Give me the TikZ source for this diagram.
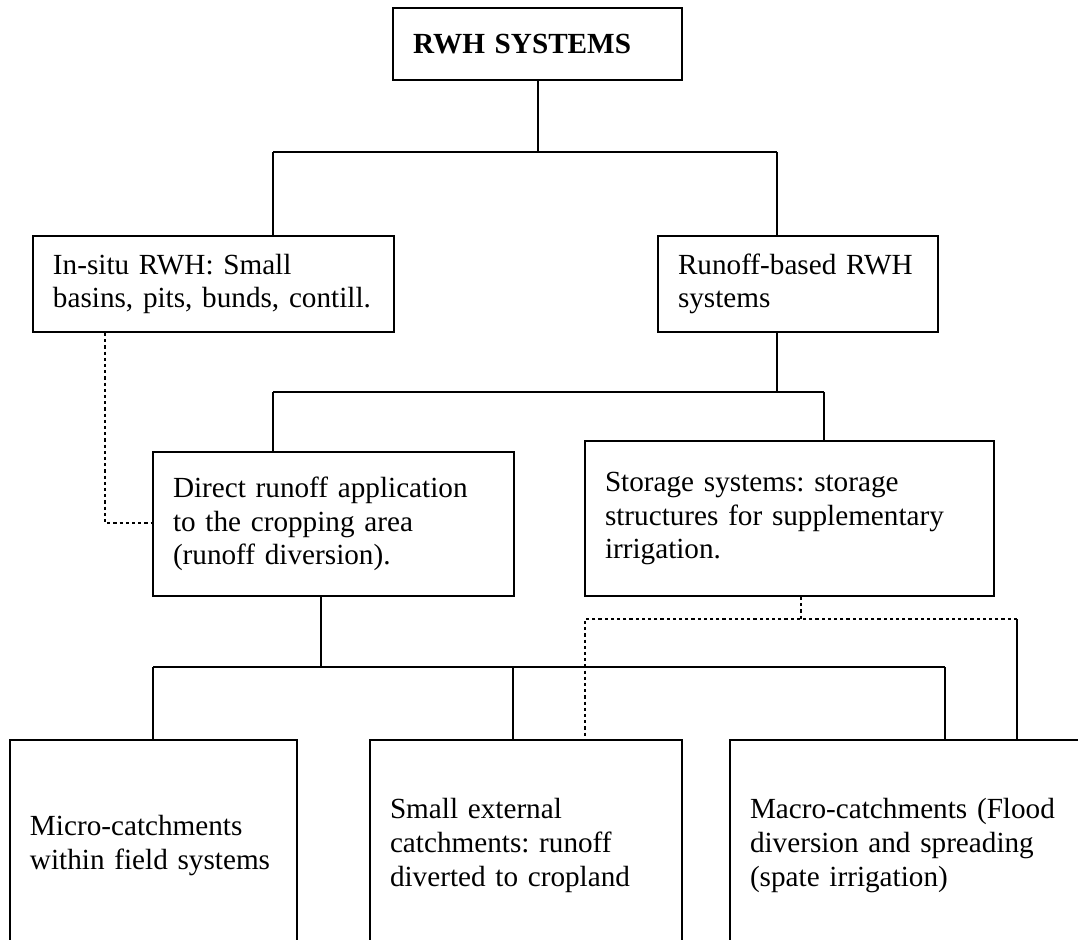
\documentclass[tikz,border=0pt]{standalone}
\usepackage{fontspec}
\setmainfont{Liberation Serif}
\usepackage{tikz}
\frenchspacing
\tikzset{
    sysbox/.style={draw, rectangle, line width=1pt, anchor=north west,
    	inner xsep=10pt, inner ysep=0pt, align=left,
    	font=\fontsize{14.6pt}{16.8pt}\selectfont}
}
\tikzset{
    every edge/.append style={line width=1pt}
}
\tikzset{
	dotlink/.style={line width=1pt, dash pattern=on 1.6pt off 1.5pt}
}

\begin{document}
\begin{tikzpicture}[x=0.5pt, y=-0.5pt]
	\useasboundingbox (0,0) rectangle (1078,940);
	\clip (0,0) rectangle (1078,940);
	% boxes
	\node [sysbox, text width=124.5pt, minimum height=36pt] (rwh) at (392,7)
		{\textbf{RWH SYSTEMS}};
	\node [sysbox, text width=160.5pt, minimum height=48pt] (insitu) at (32,235)
		{In-situ RWH: Small\\basins, pits, bunds, contill.};
	\node [sysbox, text width=120pt, minimum height=48pt] (runoff) at (657,235)
		{Runoff-based RWH\\systems};
	\node [sysbox, text width=160.5pt, minimum height=72pt] (direct) at (152,451)
		{Direct runoff application\\to the cropping area\\(runoff diversion).};
	\node [sysbox, text width=184.5pt, minimum height=77.5pt] (storage) at (584,440)
		{Storage systems: storage\\structures for supplementary\\irrigation.};
	\node [sysbox, text width=123.5pt, minimum height=105.5pt] (micro) at (9,739)
		{Micro-catchments\\within field systems};
	\node [sysbox, text width=136pt, minimum height=105.5pt] (small) at (369,739)
		{Small external\\catchments: runoff\\diverted to cropland};
	\node [sysbox, text width=180pt, minimum height=105.5pt] (macro) at (729,739)
		{Macro-catchments (Flood\\diversion and spreading\\(spate irrigation)};
	% junctions
	\coordinate (b1l) at (273,152); \coordinate (b1r) at (777,152);
	\coordinate (b2l) at (273,392); \coordinate (b2m) at (777,392);
	\coordinate (b2r) at (824,392);
	\coordinate (b3l) at (153,667); \coordinate (b3m) at (321,667);
	\coordinate (b3c) at (513,667); \coordinate (b3r) at (945,667);
	\coordinate (d1) at (105,523);
	\coordinate (s1l) at (585,619); \coordinate (s1m) at (801,619);
	\coordinate (s1r) at (1017,619);
	% solid links
	\draw (rwh.south) edge (rwh.south |- b1l);
	\draw (b1l) edge (b1r);
	\draw (b1l) edge (b1l |- insitu.north); \draw (b1r) edge (b1r |- runoff.north);
	\draw (b2m |- runoff.south) edge (b2m);
	\draw (b2l) edge (b2r);
	\draw (b2l) edge (b2l |- direct.north); \draw (b2r) edge (b2r |- storage.north);
	\draw (b3m |- direct.south) edge (b3m);
	\draw (b3l) edge (b3r);
	\foreach \c/\n in {b3l/micro, b3c/small, b3r/macro}
		\draw (\c) edge (\c |- \n.north);
	\draw (s1r) edge (s1r |- macro.north);
	% dotted links
	\draw [dotlink, line width=0.8pt] (d1 |- insitu.south) -- (d1) -- (d1 -| direct.west);
	\draw [dotlink] (s1m |- storage.south) -- (s1m);
	\draw [dotlink] (s1r) -- (s1l) -- (s1l |- small.north);
\end{tikzpicture}
\end{document}
